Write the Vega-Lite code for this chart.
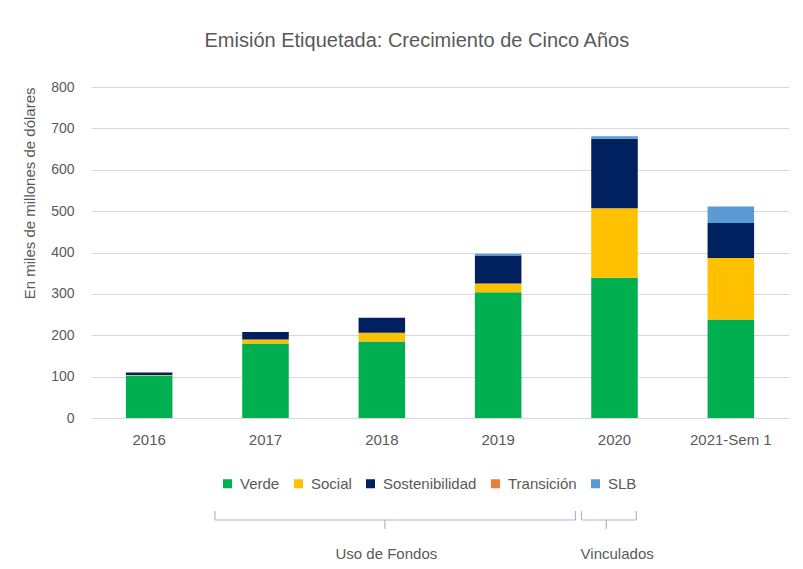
{
  "$schema": "https://vega.github.io/schema/vega-lite/v6.json",
  "background": "white",
  "padding": {"left": 22, "top": 31, "right": 5, "bottom": 0},
  "title": {"text": "Emisión Etiquetada: Crecimiento de Cinco Años", "fontSize": 20, "font": "Liberation Sans", "fontWeight": "normal", "color": "#595959", "anchor": "middle", "offset": 29, "dx": 11},
  "config": {"view": {"stroke": null}, "font": "Liberation Sans"},
  "bounds": "flush",
  "spacing": 0,
  "resolve": {"legend": {"color": "independent"}},
  "vconcat": [
    {
      "width": 698,
      "height": 331,
      "data": {"values": [
        {"periodo": "2016", "tipo": "Verde", "orden": 1, "valor": 103},
        {"periodo": "2016", "tipo": "Social", "orden": 2, "valor": 1},
        {"periodo": "2016", "tipo": "Sostenibilidad", "orden": 3, "valor": 6},
        {"periodo": "2016", "tipo": "Transición", "orden": 4, "valor": 0},
        {"periodo": "2016", "tipo": "SLB", "orden": 5, "valor": 0},
        {"periodo": "2017", "tipo": "Verde", "orden": 1, "valor": 180},
        {"periodo": "2017", "tipo": "Social", "orden": 2, "valor": 9.5},
        {"periodo": "2017", "tipo": "Sostenibilidad", "orden": 3, "valor": 18.5},
        {"periodo": "2017", "tipo": "Transición", "orden": 4, "valor": 0},
        {"periodo": "2017", "tipo": "SLB", "orden": 5, "valor": 0},
        {"periodo": "2018", "tipo": "Verde", "orden": 1, "valor": 185},
        {"periodo": "2018", "tipo": "Social", "orden": 2, "valor": 21},
        {"periodo": "2018", "tipo": "Sostenibilidad", "orden": 3, "valor": 36},
        {"periodo": "2018", "tipo": "Transición", "orden": 4, "valor": 0},
        {"periodo": "2018", "tipo": "SLB", "orden": 5, "valor": 0},
        {"periodo": "2019", "tipo": "Verde", "orden": 1, "valor": 304},
        {"periodo": "2019", "tipo": "Social", "orden": 2, "valor": 21},
        {"periodo": "2019", "tipo": "Sostenibilidad", "orden": 3, "valor": 68},
        {"periodo": "2019", "tipo": "Transición", "orden": 4, "valor": 0},
        {"periodo": "2019", "tipo": "SLB", "orden": 5, "valor": 4},
        {"periodo": "2020", "tipo": "Verde", "orden": 1, "valor": 339},
        {"periodo": "2020", "tipo": "Social", "orden": 2, "valor": 168},
        {"periodo": "2020", "tipo": "Sostenibilidad", "orden": 3, "valor": 168},
        {"periodo": "2020", "tipo": "Transición", "orden": 4, "valor": 0},
        {"periodo": "2020", "tipo": "SLB", "orden": 5, "valor": 6},
        {"periodo": "2021-Sem 1", "tipo": "Verde", "orden": 1, "valor": 238},
        {"periodo": "2021-Sem 1", "tipo": "Social", "orden": 2, "valor": 149},
        {"periodo": "2021-Sem 1", "tipo": "Sostenibilidad", "orden": 3, "valor": 84},
        {"periodo": "2021-Sem 1", "tipo": "Transición", "orden": 4, "valor": 0},
        {"periodo": "2021-Sem 1", "tipo": "SLB", "orden": 5, "valor": 40}
      ]},
      "mark": {"type": "bar"},
      "encoding": {
        "x": {
          "field": "periodo", "type": "nominal",
          "sort": ["2016", "2017", "2018", "2019", "2020", "2021-Sem 1"],
          "scale": {"paddingInner": 0.6, "paddingOuter": 0.3},
          "axis": {"title": null, "labelAngle": 0, "labelFontSize": 15, "labelColor": "#595959", "ticks": false, "tickSize": 0, "domain": false, "labelPadding": 14}
        },
        "y": {
          "field": "valor", "type": "quantitative", "stack": "zero",
          "scale": {"domain": [0, 800], "nice": false},
          "axis": {
            "title": "En miles de millones de dólares", "titleAnchor": "end", "titleFontSize": 15, "titleFontWeight": "normal", "titleColor": "#595959", "titlePadding": 13,
            "labelFontSize": 14, "labelColor": "#595959", "labelPadding": 17, "ticks": false, "tickSize": 0, "domain": false,
            "gridColor": "#d9d9d9", "values": [0, 100, 200, 300, 400, 500, 600, 700, 800]
          }
        },
        "color": {
          "field": "tipo", "type": "nominal",
          "scale": {"domain": ["Verde", "Social", "Sostenibilidad", "Transición", "SLB"], "range": ["#00b050", "#ffc000", "#002060", "#ed7d31", "#5b9bd5"]},
          "legend": {"title": null, "orient": "none", "direction": "horizontal", "legendX": 129, "legendY": 389, "symbolType": "square", "symbolSize": 81, "symbolStrokeWidth": 0, "labelFontSize": 15, "labelColor": "#595959", "columnPadding": 11, "labelOffset": 5}
        },
        "order": {"field": "orden", "type": "quantitative"}
      }
    },
    {
      "width": 698,
      "height": 150,
      "data": {"values": [
        {"grupo": "Uso de Fondos", "desde": 1.065, "hasta": 4.164, "centro": 2.526, "rotulo": 2.539},
        {"grupo": "Vinculados", "desde": 4.216, "hasta": 4.688, "centro": 4.43, "rotulo": 4.523}
      ]},
      "layer": [
        {
          "mark": {"type": "rule", "color": "#a9b8d9", "strokeWidth": 1.2},
          "encoding": {
            "x": {"field": "desde", "type": "quantitative", "scale": {"domain": [0, 6], "nice": false, "zero": false}, "axis": null},
            "x2": {"field": "hasta"},
            "y": {"datum": 10.2, "type": "quantitative", "scale": {"domain": [0, 15], "reverse": true, "nice": false, "zero": false}, "axis": null}
          }
        },
        {
          "mark": {"type": "rule", "color": "#a9b8d9", "strokeWidth": 1.2},
          "encoding": {
            "x": {"field": "desde", "type": "quantitative"},
            "y": {"datum": 9.3, "type": "quantitative"},
            "y2": {"datum": 10.2}
          }
        },
        {
          "mark": {"type": "rule", "color": "#a9b8d9", "strokeWidth": 1.2},
          "encoding": {
            "x": {"field": "hasta", "type": "quantitative"},
            "y": {"datum": 9.3, "type": "quantitative"},
            "y2": {"datum": 10.2}
          }
        },
        {
          "mark": {"type": "rule", "color": "#a9b8d9", "strokeWidth": 1.2},
          "encoding": {
            "x": {"field": "centro", "type": "quantitative"},
            "y": {"datum": 10.2, "type": "quantitative"},
            "y2": {"datum": 11.1}
          }
        },
        {
          "mark": {"type": "text", "fontSize": 15, "color": "#595959", "baseline": "middle", "align": "center"},
          "encoding": {
            "x": {"field": "rotulo", "type": "quantitative"},
            "y": {"datum": 13.6, "type": "quantitative"},
            "text": {"field": "grupo"}
          }
        }
      ]
    }
  ]
}
